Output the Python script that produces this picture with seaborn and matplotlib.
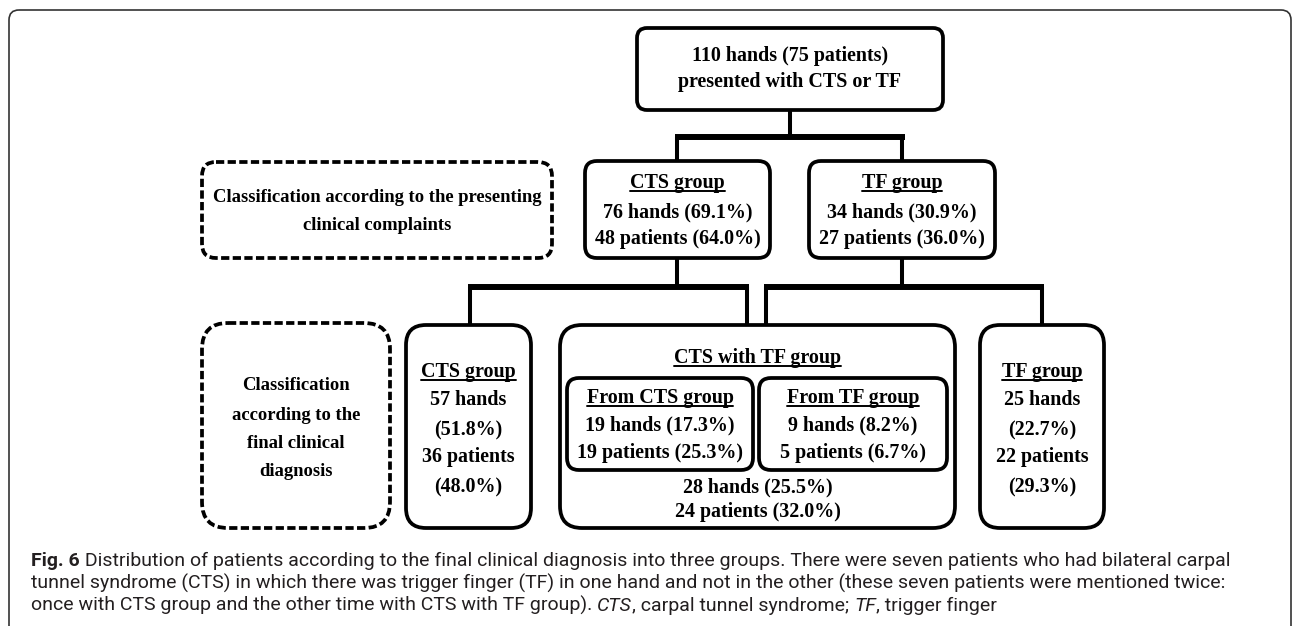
import matplotlib
matplotlib.use("Agg")
import matplotlib.pyplot as plt
from matplotlib.patches import FancyBboxPatch
from matplotlib.font_manager import FontProperties
import seaborn as sns

# ---- data ----
total_hands = 110
total_patients = 75

presenting_groups = ["CTS group", "TF group"]
presenting_hands = [76, 34]
presenting_hands_pct = [69.1, 30.9]
presenting_patients = [48, 27]
presenting_patients_pct = [64.0, 36.0]

final_groups = ["CTS group", "CTS with TF group", "TF group"]
final_hands = [57, 28, 25]
final_hands_pct = [51.8, 25.5, 22.7]
final_patients = [36, 24, 22]
final_patients_pct = [48.0, 32.0, 29.3]

overlap_sources = ["From CTS group", "From TF group"]
overlap_hands = [19, 9]
overlap_hands_pct = [17.3, 8.2]
overlap_patients = [19, 5]
overlap_patients_pct = [25.3, 6.7]

level_labels = [["Classification according to the presenting", "clinical complaints"],
                ["Classification", "according to the", "final clinical", "diagnosis"]]

caption_lines = [
    [("Fig. 6", "bold", "normal"),
     (" Distribution of patients according to the final clinical diagnosis into three groups. "
      "There were seven patients who had bilateral carpal", "normal", "normal")],
    [("tunnel syndrome (CTS) in which there was trigger finger (TF) in one hand and not in the "
      "other (these seven patients were mentioned twice:", "normal", "normal")],
    [("once with CTS group and the other time with CTS with TF group). ", "normal", "normal"),
     ("CTS", "normal", "italic"), (", carpal tunnel syndrome; ", "normal", "normal"),
     ("TF", "normal", "italic"), (", trigger finger", "normal", "normal")],
]

# ---- canvas ----
W, H = 1292, 626
sns.set_theme(style="white")
fig = plt.figure(figsize=(W / 100, H / 100), dpi=100)
ax = fig.add_axes([0, 0, 1, 1])
ax.set_xlim(0, W)
ax.set_ylim(H, 0)
ax.axis("off")
renderer = fig.canvas.get_renderer()

SERIF = dict(family="Liberation Serif", weight="bold")
SANS = "Roboto"
CAP_COLOR = "#231f20"


def text_width(s, size, **kw):
    t = ax.text(0, 0, s, fontsize=size, **kw)
    w = t.get_window_extent(renderer).width
    t.remove()
    return w


def fit_size(s, target, **kw):
    return 10 * target / text_width(s, 10, **kw)


bsize = fit_size(f"{total_hands} hands ({total_patients} patients)", 196, **SERIF)
lsize = min(bsize, fit_size(level_labels[0][0], 330, **SERIF))
csize = fit_size("".join(r[0] for r in caption_lines[0]), 1194, family=SANS)


def box(x0, y0, x1, y1, r=12, dashed=False):
    ax.add_patch(FancyBboxPatch((x0, y0), x1 - x0, y1 - y0,
                                boxstyle=f"round,pad=0,rounding_size={r}",
                                fc="white", ec="black", lw=2.7,
                                ls=(0, (2.2, 0.9)) if dashed else "-", zorder=2))


def label(x, y, s, underline=False, size=None):
    size = size or bsize
    t = ax.text(x, y, s, ha="center", va="center", fontsize=size, color="black",
                zorder=4, **SERIF)
    if underline:
        bb = t.get_window_extent(renderer)
        desc = renderer.get_text_width_height_descent(
            "lp", FontProperties(size=size, **SERIF), ismath=False)[2]
        yb = H - (bb.y0 + desc) + 2.5
        ax.plot([bb.x0, bb.x1], [yb, yb], color="black", lw=1.4, zorder=4)


def lines(x, ys, texts, first_underlined=False, size=None):
    for i, (yy, s) in enumerate(zip(ys, texts)):
        label(x, yy, s, underline=(first_underlined and i == 0), size=size)


def connector(xs, ys, lw):
    ax.plot(xs, ys, color="black", lw=lw, solid_capstyle="butt", zorder=1)


# outer frame
ax.add_patch(FancyBboxPatch((9, 10), 1282, 700, boxstyle="round,pad=0,rounding_size=10",
                            fc="none", ec="#333333", lw=1.2, zorder=0))

# connectors
connector([790, 790], [110, 139], 2.9)
connector([675, 905], [137, 137], 4.3)
for cx in [677, 902]:
    connector([cx, cx], [137, 162], 2.9)
connector([677, 677], [258, 289], 2.9)
connector([468, 749], [287, 287], 4.3)
for cx in [470, 747]:
    connector([cx, cx], [287, 326], 2.9)
connector([902, 902], [258, 289], 2.9)
connector([764, 1044], [287, 287], 4.3)
for cx in [766, 1042]:
    connector([cx, cx], [287, 326], 2.9)

# top box
box(637, 28, 943, 110, r=10)
lines(790, [56, 82], [f"{total_hands} hands ({total_patients} patients)",
                      "presented with CTS or TF"])

# presenting-complaint level
box(202, 162, 552, 258, r=14, dashed=True)
lines(377, [198, 226], level_labels[0], size=lsize)
for (x0, x1), g, h, hp, p, pp in zip([(585, 770), (809, 995)], presenting_groups,
                                      presenting_hands, presenting_hands_pct,
                                      presenting_patients, presenting_patients_pct):
    box(x0, 161, x1, 258, r=12)
    lines((x0 + x1) / 2, [183, 212, 239],
          [g, f"{h} hands ({hp:.1f}%)", f"{p} patients ({pp:.1f}%)"], first_underlined=True)

# final-diagnosis level
box(202, 323, 390, 528, r=26, dashed=True)
lines(296, [386, 415, 443, 472], level_labels[1], size=lsize)

final_x = [(406, 531), (560, 955), (980, 1104)]
for k in [0, 2]:
    x0, x1 = final_x[k]
    box(x0, 325, x1, 528, r=20)
    lines((x0 + x1) / 2, [372, 400, 430, 457, 487],
          [final_groups[k], f"{final_hands[k]} hands", f"({final_hands_pct[k]:.1f}%)",
           f"{final_patients[k]} patients", f"({final_patients_pct[k]:.1f}%)"],
          first_underlined=True)

x0, x1 = final_x[1]
box(x0, 325, x1, 528, r=22)
label((x0 + x1) / 2, 358, final_groups[1], underline=True)
for (ix0, ix1), g, h, hp, p, pp in zip([(567, 753), (759, 947)], overlap_sources,
                                        overlap_hands, overlap_hands_pct,
                                        overlap_patients, overlap_patients_pct):
    box(ix0, 378, ix1, 470, r=12)
    lines((ix0 + ix1) / 2, [398, 425, 453],
          [g, f"{h} hands ({hp:.1f}%)", f"{p} patients ({pp:.1f}%)"], first_underlined=True)
lines((x0 + x1) / 2, [487, 512],
      [f"{final_hands[1]} hands ({final_hands_pct[1]:.1f}%)",
       f"{final_patients[1]} patients ({final_patients_pct[1]:.1f}%)"])

# caption with mixed bold / italic runs
bar_w = text_width("|", csize, family=SANS)
for yy, runs in zip([566, 589, 611], caption_lines):
    cx = 31
    for s, weight, style in runs:
        ax.text(cx, yy, s, ha="left", va="baseline", fontsize=csize, family=SANS,
                weight=weight, style=style, color=CAP_COLOR, zorder=4)
        cx += text_width(s + "|", csize, family=SANS, weight=weight, style=style) - bar_w

fig.savefig("out.png", dpi=100, facecolor="white")
